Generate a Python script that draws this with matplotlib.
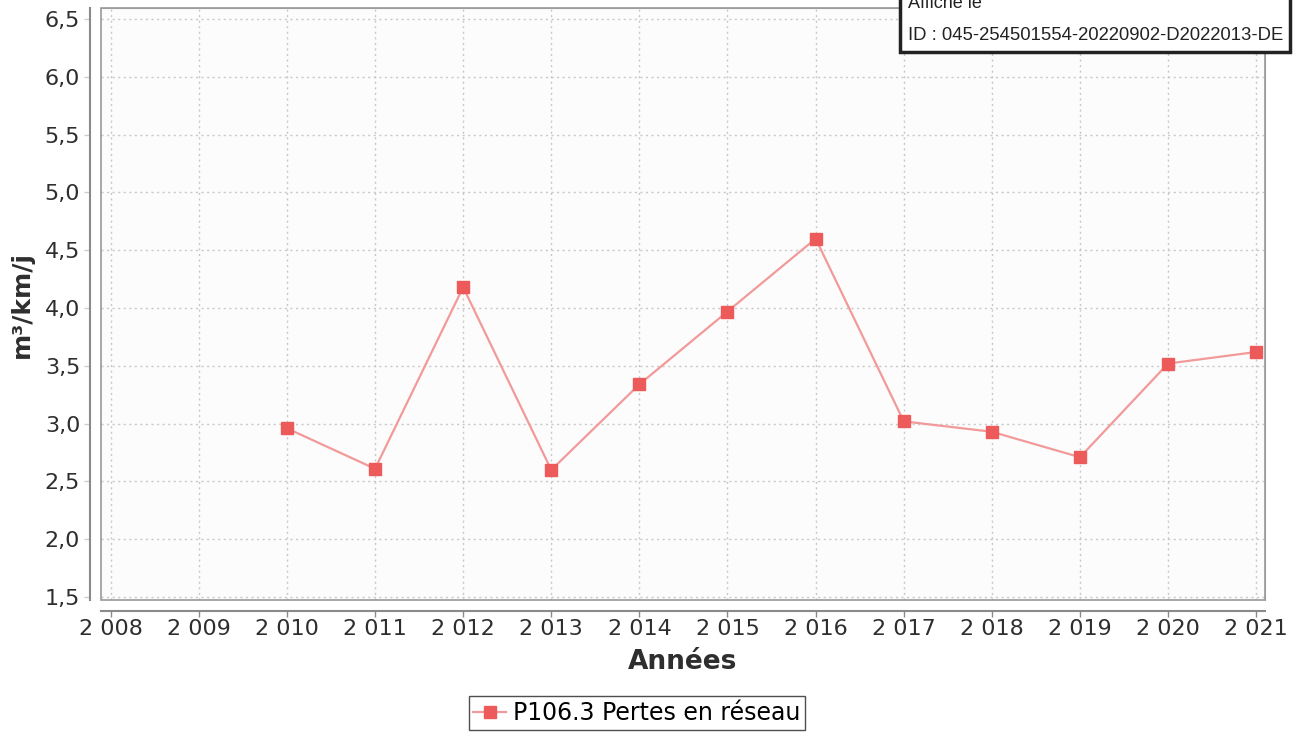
import matplotlib.pyplot as plt
import matplotlib.patches as mpatches
from matplotlib.ticker import FuncFormatter

# data
years = [2010, 2011, 2012, 2013, 2014, 2015, 2016, 2017, 2018, 2019, 2020, 2021]
pertes = [2.96, 2.61, 4.18, 2.60, 3.34, 3.97, 4.60, 3.02, 2.93, 2.71, 3.52, 3.62]
xticks = list(range(2008, 2022))
yticks = [1.5, 2.0, 2.5, 3.0, 3.5, 4.0, 4.5, 5.0, 5.5, 6.0, 6.5]

LINE = '#f29a9a'
MARK = '#ec5a5a'
AXC = '#8a8a8a'
TXT = '#2e2e2e'

plt.rcParams['font.family'] = 'DejaVu Sans'

fig = plt.figure(figsize=(12.98, 7.33), dpi=100)
ax = fig.add_axes([101 / 1298, 1 - 600 / 733, 1164 / 1298, 592 / 733])
ax.set_facecolor('#fcfcfd')

ax.plot(years, pertes, '-', color=LINE, lw=1.6, zorder=3)
ax.plot(years, pertes, 's', color=MARK, ms=8, zorder=4)

ax.set_xlim(2007.89, 2021.1)
ax.set_ylim(1.475, 6.595)
ax.set_xticks(xticks)
ax.set_yticks(yticks)
ax.xaxis.set_major_formatter(FuncFormatter(lambda v, _: f'{int(v) // 1000} {int(v) % 1000:03d}'))
ax.yaxis.set_major_formatter(FuncFormatter(lambda v, _: f'{v:.1f}'.replace('.', ',')))
ax.tick_params(axis='both', labelsize=16, colors=TXT, length=4, width=1)
ax.tick_params(axis='x', color=AXC, pad=2)
ax.tick_params(axis='y', color='#cccccc', pad=3)
ax.grid(True, color='#c8c8c8', linestyle=(0, (1.5, 2.5)), linewidth=1)

for s in ['top', 'right']:
    ax.spines[s].set_color('#b0b0b0')
ax.spines['left'].set_position(('outward', 8))
ax.spines['bottom'].set_position(('outward', 8))
ax.spines['left'].set_color(AXC)
ax.spines['bottom'].set_color(AXC)
ax.spines['left'].set_linewidth(1.5)
ax.spines['bottom'].set_linewidth(1.5)

# plot-area border
ax.add_patch(mpatches.Rectangle((0, 0), 1, 1, transform=ax.transAxes, fill=False,
                                edgecolor='#999999', lw=1.2, zorder=5, clip_on=False))

ax.set_xlabel('Années', fontsize=19, fontweight='bold', color=TXT, labelpad=7)
ax.set_ylabel('m³/km/j', fontsize=18, fontweight='bold', color=TXT, labelpad=8)

# legend
h = plt.Line2D([], [], color=LINE, lw=1.6, marker='s', ms=9, mfc=MARK, mec=MARK)
fig.legend([h], ['P106.3 Pertes en réseau'], loc='center', bbox_to_anchor=(637 / 1298, 1 - 713 / 733),
           fontsize=17, frameon=True, fancybox=False, edgecolor='#222222',
           handlelength=1.4, handletextpad=0.3, borderpad=0.2, borderaxespad=0)

# stamp box top right
fig.patches.append(mpatches.Rectangle((900 / 1298, 1 - 52 / 733), 390 / 1298, 60 / 733,
                                      transform=fig.transFigure, facecolor='white',
                                      edgecolor='#222222', lw=2.5, zorder=10))
fig.text(908 / 1298, 1 - 3 / 733, 'Affiché le', fontsize=13, color='#222222',
         va='center', ha='left', family='Liberation Sans', zorder=11)
fig.text(908 / 1298, 1 - 36 / 733, 'ID : 045-254501554-20220902-D2022013-DE', fontsize=13.3,
         color='#222222', va='center', ha='left', family='Liberation Sans', zorder=11)

fig.savefig('out.png', dpi=100, facecolor='white')
